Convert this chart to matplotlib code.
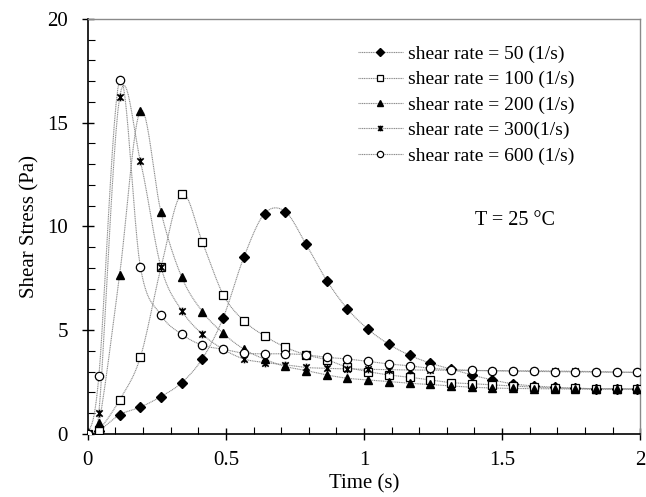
import numpy as np
import matplotlib
matplotlib.use("Agg")
from matplotlib import pyplot as plt
from matplotlib.path import Path
from matplotlib.ticker import MultipleLocator

plt.rcParams['font.family'] = ['Liberation Serif', 'DejaVu Serif']

# sample times (s)
time = [0, 0.04, 0.115, 0.19, 0.265, 0.34, 0.415, 0.49, 0.565, 0.64, 0.715,
        0.79, 0.865, 0.94, 1.015, 1.09, 1.165, 1.24, 1.315, 1.39, 1.465,
        1.54, 1.615, 1.69, 1.765, 1.84, 1.915, 1.99]

rate_50 = [0, 0.15, 0.92, 1.29, 1.80, 2.47, 3.63, 5.59, 8.52, 10.62, 10.71,
           9.14, 7.39, 6.02, 5.04, 4.32, 3.79, 3.41, 3.12, 2.84, 2.60,
           2.41, 2.31, 2.25, 2.20, 2.18, 2.17, 2.16]
rate_100 = [0, 0.19, 1.64, 3.69, 8.03, 11.57, 9.24, 6.71, 5.45, 4.72, 4.18,
            3.81, 3.57, 3.21, 3.00, 2.84, 2.73, 2.60, 2.47, 2.42, 2.36,
            2.31, 2.25, 2.21, 2.19, 2.18, 2.17, 2.17]
rate_200 = [0, 0.51, 7.66, 15.58, 10.68, 7.55, 5.89, 4.85, 4.08, 3.60, 3.25,
            3.05, 2.84, 2.68, 2.60, 2.52, 2.44, 2.38, 2.31, 2.25, 2.21,
            2.19, 2.18, 2.17, 2.16, 2.15, 2.15, 2.15]
rate_300 = [0, 1.03, 16.22, 13.16, 8.03, 5.94, 4.80, 4.08, 3.61, 3.44, 3.33,
            3.20, 3.16, 3.13, 3.11, 3.09, 3.08, 3.07, 3.06, 3.05, 3.05,
            3.04, 3.04, 3.03, 3.02, 3.00, 2.98, 2.97]
rate_600 = [0, 2.80, 17.06, 8.06, 5.73, 4.80, 4.27, 4.08, 3.89, 3.86, 3.86,
            3.81, 3.69, 3.61, 3.49, 3.37, 3.28, 3.16, 3.10, 3.06, 3.04,
            3.02, 3.01, 3.00, 2.99, 2.98, 2.97, 2.96]

labels = ["shear rate = 50 (1/s)", "shear rate = 100 (1/s)",
          "shear rate = 200 (1/s)", "shear rate = 300(1/s)",
          "shear rate = 600 (1/s)"]

# asterisk-like marker: an x with a vertical bar
star = Path([(-1, -1), (1, 1), (-1, 1), (1, -1), (0, -1.2), (0, 1.2)],
            [Path.MOVETO, Path.LINETO, Path.MOVETO, Path.LINETO,
             Path.MOVETO, Path.LINETO])

styles = [
    dict(marker="D", ms=5.2, mfc="black", mec="black"),
    dict(marker="s", ms=5.8, mfc="white", mec="black", mew=0.9),
    dict(marker="^", ms=6.3, mfc="black", mec="black"),
    dict(marker=star, ms=5.5, mfc="black", mec="black", mew=1.2),
    dict(marker="o", ms=6.0, mfc="white", mec="black", mew=0.9),
]


def smooth(x, y, n=12):
    # Catmull-Rom style curve through the points, like a spreadsheet smoothed line
    x = np.asarray(x, float)
    y = np.asarray(y, float)
    px = np.concatenate([[x[0]], x, [x[-1]]])
    py = np.concatenate([[y[0]], y, [y[-1]]])
    xs, ys = [], []
    for i in range(1, len(px) - 2):
        t = np.linspace(0, 1, n, endpoint=False)
        for arr, out in ((px, xs), (py, ys)):
            p0, p1, p2, p3 = arr[i - 1], arr[i], arr[i + 1], arr[i + 2]
            out.extend(0.5 * ((2 * p1) + (-p0 + p2) * t
                              + (2 * p0 - 5 * p1 + 4 * p2 - p3) * t ** 2
                              + (-p0 + 3 * p1 - 3 * p2 + p3) * t ** 3))
    xs.append(x[-1])
    ys.append(y[-1])
    return xs, ys


fig = plt.figure(figsize=(6.46, 4.97), dpi=100)
ax = fig.add_axes([0.136, 0.127, 0.855, 0.835])

series = [rate_50, rate_100, rate_200, rate_300, rate_600]
for vals, lab, st in zip(series, labels, styles):
    sx, sy = smooth(time, vals)
    ax.plot(sx, sy, color="#8a8a8a", lw=0.8, ls=(0, (1, 0.6)), zorder=2)
    ax.plot(time, vals, ls="none", zorder=3, **st)
    # legend proxy
    ax.plot([], [], color="#8a8a8a", lw=0.8, ls=(0, (1, 0.6)), label=lab, **st)

ax.set_xlim(0, 2)
ax.set_ylim(0, 20)
ax.xaxis.set_major_locator(MultipleLocator(0.5))
ax.xaxis.set_minor_locator(MultipleLocator(0.1))
ax.yaxis.set_major_locator(MultipleLocator(5))
ax.yaxis.set_minor_locator(MultipleLocator(1))
ax.set_xticks([0, 0.5, 1, 1.5, 2], ["0", "0.5", "1", "1.5", "2"])
ax.tick_params(which="major", direction="inout", length=9, width=1, labelsize=15)
ax.tick_params(which="minor", direction="in", length=5, width=0.8)
ax.tick_params(axis="x", which="major", pad=8)
ax.tick_params(axis="y", which="major", pad=10)

for side in ("left", "bottom"):
    ax.spines[side].set_linewidth(1.2)
for side in ("top", "right"):
    ax.spines[side].set_color("#8a8a8a")
    ax.spines[side].set_linewidth(1.0)

ax.set_xlabel("Time (s)", fontsize=15, labelpad=3)
ax.set_ylabel("Shear Stress (Pa)", fontsize=15, labelpad=5)

leg = ax.legend(loc="upper left", bbox_to_anchor=(0.475, 0.955), frameon=False,
                fontsize=14, handlelength=2.3, handletextpad=0.26,
                labelspacing=0.4, borderaxespad=0, markerscale=0.75)

ax.text(0.701, 0.513, "T = 25 °C", transform=ax.transAxes, fontsize=14.5,
        va="center")

fig.savefig("out.png", dpi=100)
